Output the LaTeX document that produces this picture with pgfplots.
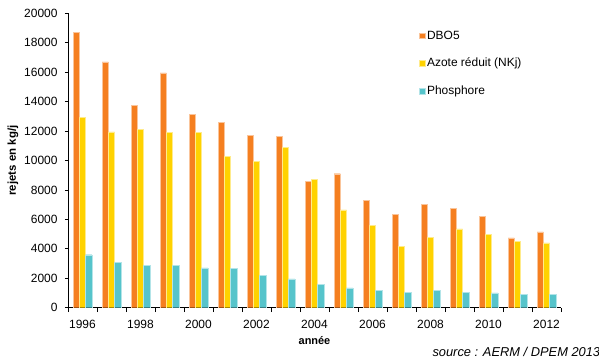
\documentclass[border=0pt]{standalone}
\usepackage{pgfplots}
\pgfplotsset{compat=1.18}
\usepackage{fontspec}
\setmainfont{Liberation Sans}

\definecolor{dbo}{RGB}{245,127,32}
\definecolor{azote}{RGB}{255,210,0}
\definecolor{phos}{RGB}{86,196,203}

% Rejets annuels (kg/j), 1996 -> 2012
\pgfplotstableread{
x  dbo    azote  phos
0  18700  12950  3600
1  16700  11950  3100
2  13750  12100  2900
3  15950  11900  2900
4  13150  11900  2700
5  12600  10300  2650
6  11700  9950   2200
7  11650  10900  1950
8  8600   8700   1600
9  9100   6650   1350
10 7300   5600   1200
11 6350   4150   1050
12 7000   4800   1200
13 6750   5350   1050
14 6200   5000   1000
15 4750   4500   900
16 5150   4400   900
}\rejets

\begin{document}
\begin{tikzpicture}
\useasboundingbox (0,0) rectangle (599bp,363bp);
\clip (0,0) rectangle (599bp,363bp);
\begin{axis}[
  at={(68bp,55.3bp)}, anchor=south west,
  scale only axis, width=493bp, height=294.4bp,
  ybar=0pt, bar width=6.2bp,
  xmin=-0.5, xmax=16.5, ymin=0, ymax=20000,
  axis x line*=bottom, axis y line*=left,
  axis line style={black, line width=0.8pt},
  xtick={0,2,...,16},
  xticklabels={1996,1998,2000,2002,2004,2006,2008,2010,2012},
  major x tick style={draw=none},
  minor xtick={-0.5,0.5,...,16.5},
  minor x tick style={black, line width=0.8pt},
  minor tick length=4.5bp,
  ytick={0,2000,...,20000},
  y tick style={black, line width=0.8pt},
  major tick length=3bp,
  tick align=outside,
  xticklabel style={yshift=-6bp},
  yticklabel style={xshift=-4bp},
  ticklabel style={font=\fontsize{12}{14}\selectfont},
  /pgf/number format/assume math mode=true,
  /pgf/number format/fixed,
  /pgf/number format/set thousands separator={},
  scaled y ticks=false,
  xlabel={\textbf{année}},
  xlabel style={font=\fontsize{11}{12}\selectfont, yshift=-1bp},
  ylabel={\textbf{rejets en kg/j}},
  ylabel style={font=\fontsize{11.5}{12}\selectfont, yshift=-1bp},
  legend cell align=left,
  legend style={draw=none, fill=none, at={(0.712,0.948)}, anchor=north west,
    font=\fontsize{12}{14}\selectfont, row sep=13.5bp, inner sep=0pt},
  legend image code/.code={\fill[#1] (0bp,-2.8bp) rectangle (5.5bp,2.8bp);},
  every axis plot/.append style={line width=0.4pt},
]
\addplot[fill=dbo, draw=dbo!45!white] table[x=x, y=dbo] {\rejets};
\addplot[fill=azote, draw=azote!45!white] table[x=x, y=azote] {\rejets};
\addplot[fill=phos, draw=phos!45!white] table[x=x, y=phos] {\rejets};
\legend{DBO5, Azote réduit (NKj), Phosphore}
\end{axis}
\node[anchor=base west, font=\fontsize{12.9}{15}\selectfont\itshape]
  at (429bp,6.5bp) {source : AERM / DPEM 2013};
\end{tikzpicture}
\end{document}
